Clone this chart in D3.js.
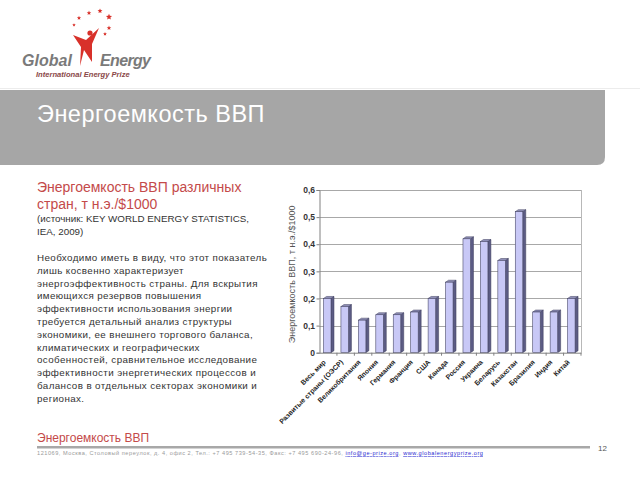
<!DOCTYPE html>
<html>
<head>
<meta charset="utf-8">
<script src="https://cdn.jsdelivr.net/npm/d3@7"></script>
<style>
  body { margin: 0; background: #fff; }
  svg { display: block; font-family: "Liberation Sans", Arial, sans-serif; }
</style>
</head>
<body>
<script>
const w = 640;
const h = 480;

// data
const categories = ["Весь мир", "Развитые страны (ОЭСР)", "Великобритания", "Япония", "Германия",
    "Франция", "США", "Канада", "Россия", "Украина", "Беларусь", "Казахстан", "Бразилия", "Индия", "Китай"];
const values = [0.20, 0.17, 0.12, 0.14, 0.14, 0.15, 0.20, 0.26, 0.42, 0.41, 0.34, 0.52, 0.15, 0.15, 0.20];
const yTicks = [0, 0.1, 0.2, 0.3, 0.4, 0.5, 0.6];

const headTitle = "Энергоемкость ВВП";
const chartTitle = ["Энергоемкость ВВП различных", "стран, т н.э./$1000"];
const sourceLines = ["(источник: KEY WORLD ENERGY STATISTICS,", "IEA, 2009)"];
const bodyLines = [
    "Необходимо иметь в виду, что этот показатель",
    "лишь косвенно характеризует",
    "энергоэффективность страны. Для вскрытия",
    "имеющихся резервов повышения",
    "эффективности использования энергии",
    "требуется детальный анализ структуры",
    "экономики, ее внешнего торгового баланса,",
    "климатических и географических",
    "особенностей, сравнительное исследование",
    "эффективности энергетических процессов и",
    "балансов в отдельных секторах экономики и",
    "регионах."
];
const yLabel = "Энергоемкость ВВП, т н.э./$1000";
const footerAddr = "121069, Москва, Столовый переулок, д. 4, офис 2, Тел.: +7 495 739-54-35, Факс: +7 495 690-24-96, ";
const footerMail = "info@ge-prize.org";
const footerWeb = "www.globalenergyprize.org";

const red = "#c44a4a";

const svg = d3.select("body")
    .append("svg")
    .attr("width", w)
    .attr("height", h);

// --- logo ---
const logo = svg.append("g");
const starPts = [[79, 18], [89, 13], [100, 11], [109, 17], [109, 28], [105, 34], [74, 25]];
const starSize = [2.2, 2.4, 2.6, 3.2, 2.4, 2, 1.8];
const star = (cx, cy, r) => {
    let p = [];
    for (let i = 0; i < 10; i++) {
        let a = -Math.PI / 2 + i * Math.PI / 5;
        let rr = i % 2 == 0 ? r : r * 0.45;
        p.push([cx + rr * Math.cos(a), cy + rr * Math.sin(a)]);
    }
    return p.map(d => d.join(",")).join(" ");
};
logo.selectAll("polygon.star")
    .data(starPts)
    .enter()
    .append("polygon")
    .attr("points", (d, i) => star(d[0], d[1], starSize[i]))
    .attr("fill", "#d8312a");
// figure
logo.append("path")
    .attr("d", "M73,35 L86,40 L99,28 L92,44 L92,62 L84,50 L80,66 L81,47 Z")
    .attr("fill", "#d8312a");
logo.append("circle").attr("cx", 90).attr("cy", 33).attr("r", 2.6).attr("fill", "#d8312a");
logo.append("text")
    .attr("x", 22).attr("y", 66)
    .attr("font-size", 16).attr("font-weight", "bold").attr("font-style", "italic")
    .attr("textLength", 50)
    .attr("fill", "#7a7a7a")
    .text("Global");
logo.append("text")
    .attr("x", 100).attr("y", 66)
    .attr("font-size", 16).attr("font-weight", "bold").attr("font-style", "italic")
    .attr("textLength", 51)
    .attr("fill", "#7a7a7a")
    .text("Energy");
logo.append("text")
    .attr("x", 36).attr("y", 77)
    .attr("font-size", 7.6).attr("font-weight", "bold").attr("font-style", "italic")
    .attr("fill", "#8a4848")
    .text("International Energy Prize");

svg.append("line")
    .attr("x1", 0).attr("x2", w).attr("y1", 88.5).attr("y2", 88.5)
    .attr("stroke", "#ececec");

// --- banner ---
svg.append("path")
    .attr("d", "M0,90 H605 V157 Q605,165 597,165 H0 Z")
    .attr("fill", "#a6a6a6");
svg.append("text")
    .attr("x", 37).attr("y", 122)
    .attr("font-size", 23.5)
    .attr("letter-spacing", 0.5)
    .attr("fill", "#fff")
    .text(headTitle);

// --- left text ---
svg.selectAll("text.ctitle")
    .data(chartTitle)
    .enter()
    .append("text")
    .attr("x", 37)
    .attr("y", (d, i) => 192 + i * 16.5)
    .attr("font-size", 14)
    .attr("fill", red)
    .text(d => d);
svg.selectAll("text.src")
    .data(sourceLines)
    .enter()
    .append("text")
    .attr("x", 37)
    .attr("y", (d, i) => 222 + i * 12.5)
    .attr("font-size", 9.8)
    .attr("fill", "#333")
    .text(d => d);
svg.selectAll("text.body")
    .data(bodyLines)
    .enter()
    .append("text")
    .attr("x", 37)
    .attr("y", (d, i) => 261 + i * 12.8)
    .attr("font-size", 9.8)
    .attr("letter-spacing", 0.4)
    .attr("fill", "#333")
    .text(d => d);

// --- chart ---
const x0 = 319.5, x1 = 581, y0 = 352.7, y1 = 190;
const xScale = d3.scaleBand()
    .domain(categories)
    .range([x0, x1]);
const yScale = d3.scaleLinear()
    .domain([0, 0.6])
    .range([y0, y1]);

const chart = svg.append("g");

chart.selectAll("line.grid")
    .data(yTicks.filter(d => d > 0))
    .enter()
    .append("line")
    .attr("x1", x0).attr("x2", x1)
    .attr("y1", d => Math.round(yScale(d)) + 0.5)
    .attr("y2", d => Math.round(yScale(d)) + 0.5)
    .attr("stroke", "#a8a8a8");
chart.append("line")
    .attr("x1", x1 + 0.5).attr("x2", x1 + 0.5)
    .attr("y1", y1).attr("y2", y0)
    .attr("stroke", "#b8b8b8");

const yAxis = d3.axisLeft(yScale)
    .tickValues(yTicks)
    .tickSize(3)
    .tickFormat(d => d === 0 ? "0" : d.toFixed(1).replace(".", ","));
const gy = chart.append("g")
    .attr("transform", `translate(${x0}, 0)`)
    .call(yAxis);
gy.select(".domain").attr("stroke", "#808080");
gy.selectAll(".tick line").attr("stroke", "#808080");
gy.selectAll(".tick text")
    .attr("font-size", 8.5)
    .attr("font-weight", "bold")
    .attr("fill", "#333")
    .attr("x", -4.5);

// bars with 3D look
const bw = xScale.bandwidth() * 0.43;
const off = xScale.bandwidth() * 0.23;
const dx = 3, dy = 2;
const bars = chart.selectAll("g.bar")
    .data(values)
    .enter()
    .append("g");
bars.append("polygon")
    .attr("points", (d, i) => {
        let l = xScale(categories[i]) + off + bw, t = yScale(d);
        return [[l, t], [l + dx, t - dy], [l + dx, y0 - dy], [l, y0]].map(p => p.join(",")).join(" ");
    })
    .attr("fill", "#5c5c84")
    .attr("stroke", "#3c3c5c")
    .attr("stroke-width", 0.5);
bars.append("polygon")
    .attr("points", (d, i) => {
        let l = xScale(categories[i]) + off, t = yScale(d);
        return [[l, t], [l + dx, t - dy], [l + bw + dx, t - dy], [l + bw, t]].map(p => p.join(",")).join(" ");
    })
    .attr("fill", "#9090b8")
    .attr("stroke", "#3c3c5c")
    .attr("stroke-width", 0.5);
bars.append("rect")
    .attr("x", (d, i) => xScale(categories[i]) + off)
    .attr("y", d => yScale(d))
    .attr("width", bw)
    .attr("height", d => y0 - yScale(d))
    .attr("fill", "#c8c8f6")
    .attr("stroke", "#4a4a6a")
    .attr("stroke-width", 0.6);

const xAxis = d3.axisBottom(xScale)
    .tickSize(0)
    .tickFormat("");
const gx = chart.append("g")
    .attr("transform", `translate(0, ${y0})`)
    .call(xAxis);
gx.select(".domain").attr("stroke", "#808080");
chart.selectAll("line.xt")
    .data(categories.slice(1).concat(["end"]))
    .enter()
    .append("line")
    .attr("x1", (d, i) => x0 + (i + 1) * xScale.step())
    .attr("x2", (d, i) => x0 + (i + 1) * xScale.step())
    .attr("y1", y0).attr("y2", y0 + 3)
    .attr("stroke", "#808080");

chart.selectAll("text.xl")
    .data(categories)
    .enter()
    .append("text")
    .attr("transform", d => `translate(${xScale(d) + xScale.bandwidth() / 2 - 2}, ${y0 + 10}) rotate(-45)`)
    .attr("text-anchor", "end")
    .attr("font-size", 6.9)
    .attr("font-weight", "bold")
    .attr("fill", "#222")
    .text(d => d);

svg.append("text")
    .attr("transform", `translate(295, ${(y0 + y1) / 2 + 3}) rotate(-90)`)
    .attr("text-anchor", "middle")
    .attr("font-size", 9)
    .attr("fill", "#555")
    .text(yLabel);

// --- footer ---
svg.append("text")
    .attr("x", 37).attr("y", 442)
    .attr("font-size", 12)
    .attr("fill", red)
    .text(headTitle);
svg.append("rect")
    .attr("x", 37).attr("y", 446)
    .attr("width", 553).attr("height", 2.5)
    .attr("fill", "#a8a8a8");
const ft = svg.append("text")
    .attr("x", 37).attr("y", 455)
    .attr("font-size", 5.6)
    .attr("textLength", 446)
    .attr("fill", "#9a9a9a");
ft.append("tspan").text(footerAddr);
ft.append("tspan").attr("fill", "#2a2ad0").attr("text-decoration", "underline").text(footerMail);
ft.append("tspan").text(", ");
ft.append("tspan").attr("fill", "#2a2ad0").attr("text-decoration", "underline").text(footerWeb);
svg.append("text")
    .attr("x", 598).attr("y", 451)
    .attr("font-size", 8)
    .attr("fill", "#555")
    .text("12");
</script>
</body>
</html>
